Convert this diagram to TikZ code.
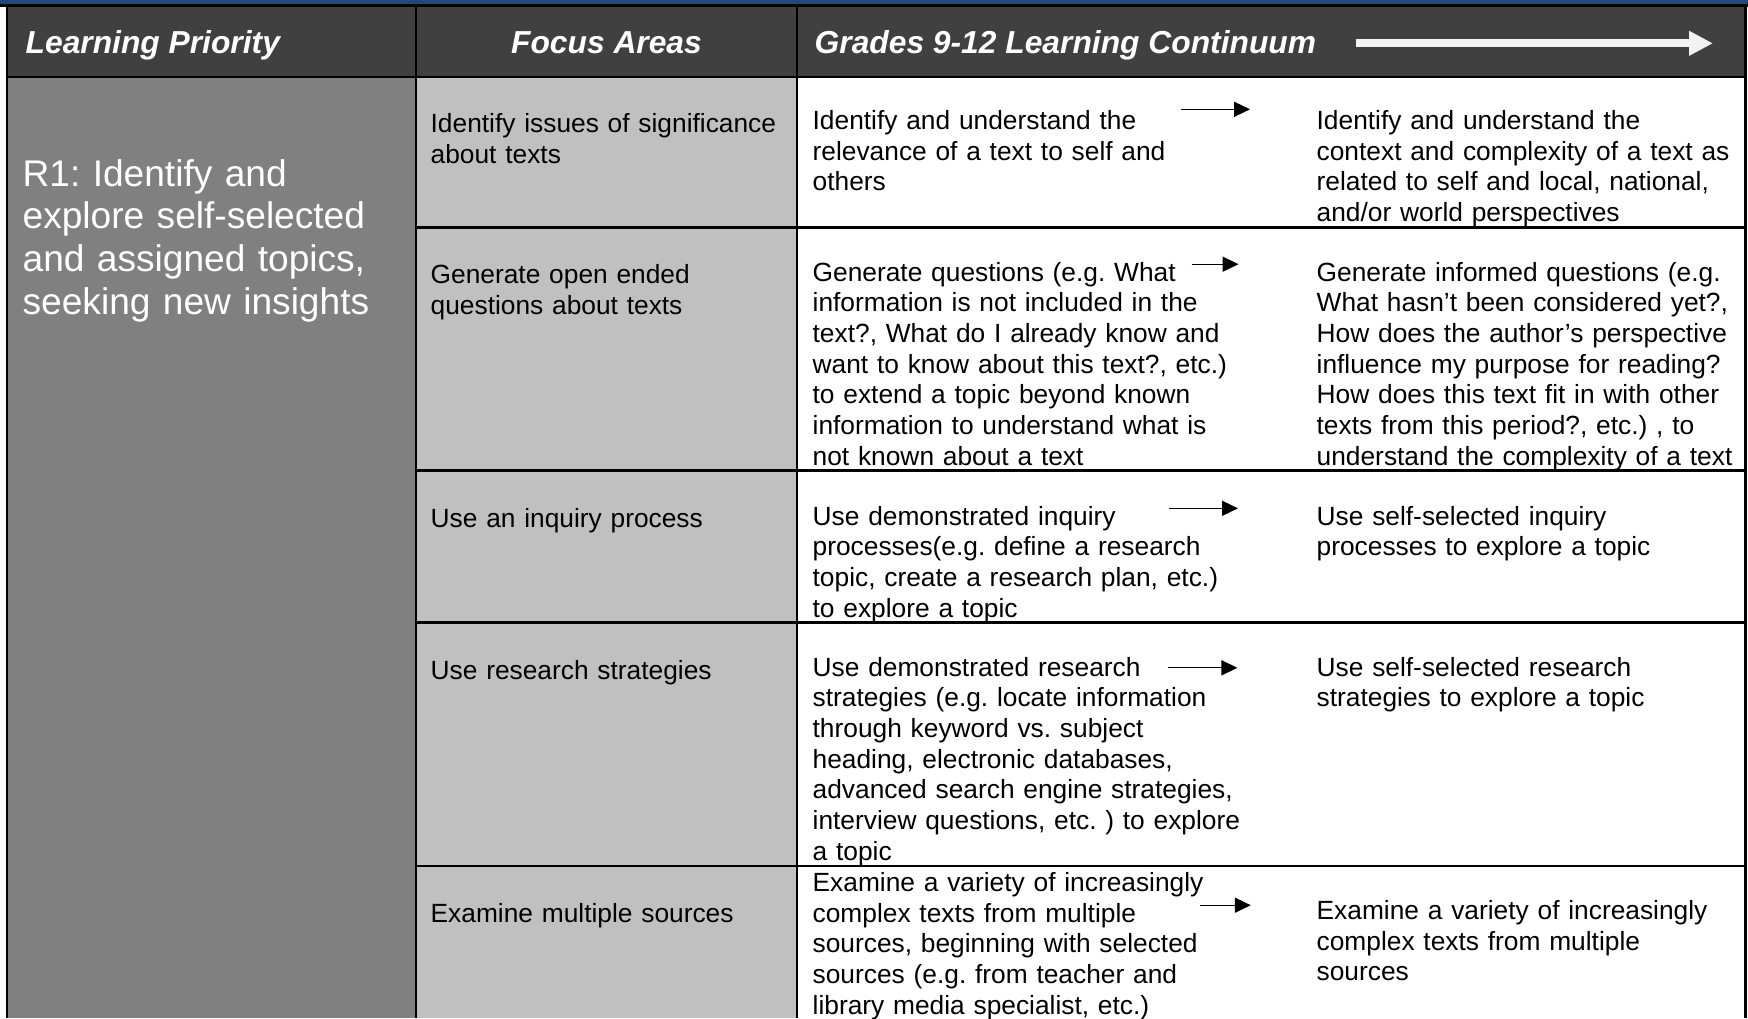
\documentclass[tikz,border=0pt]{standalone}
\usepackage{fontspec}
\setmainfont{Liberation Sans}
\usetikzlibrary{arrows.meta,positioning}
\definecolor{bandblue}{RGB}{31,73,125}
\definecolor{headgray}{RGB}{64,64,64}
\definecolor{prioritygray}{RGB}{128,128,128}
\definecolor{focusgray}{RGB}{192,192,192}
\definecolor{arrowwhite}{RGB}{242,242,242}
\frenchspacing
\tikzset{
    >={Triangle[length=7.2pt,width=6.8pt]},
    every picture/.style={line width=0.6pt},
    gridline/.style={line width=1pt,black},
    headtext/.style={anchor=base west,inner sep=0pt,text=white,font=\fontsize{14.3}{16.5}\selectfont\bfseries\itshape},
    celltext/.style={anchor=base west,inner sep=0pt,text width=205pt,align=left,font=\fontsize{11.85}{13.8}\selectfont},
    prioritytext/.style={anchor=base west,inner sep=0pt,text width=185pt,align=left,text=white,font=\fontsize{16.7}{19.2}\selectfont},
    nextarrow/.style={->,line width=0.6pt}
}

\begin{document}
\begin{tikzpicture}[x=0.45pt,y=-0.45pt]
    \useasboundingbox (0,0) rectangle (1748,1018);
    % backgrounds
    \fill[white] (0,0) rectangle (1748,1018);
    \fill[bandblue] (0,0) rectangle (1748,5);
    \fill[headgray] (7,5) rectangle (1746,77);
    \fill[prioritygray] (7,77) rectangle (416,1018);
    \fill[focusgray] (416,77) rectangle (797,1018);
    % grid
    \draw[gridline] (0,5.5) -- (1748,5.5);
    \draw[gridline] (7,77) -- (1746,77);
    \foreach \x in {7,416,797,1745.5}
        \draw[gridline] (\x,5.5) -- (\x,1018);
    \foreach \y in {227.5,470.5,622.5,866}
        \draw[gridline] (416,\y) -- (1746,\y);

    % header
    \node[headtext] (hpriority) at (25,53.5) {Learning Priority};
    \node[headtext,anchor=base] (hfocus) at (606.5,53.5) {Focus Areas};
    \node[headtext] (hcontinuum) at (814,53.5) {Grades 9-12 Learning Continuum};
    \coordinate (hstart) at (1356,43.3);
    \coordinate (hend) at (1713,43.3);
    \draw[-{Triangle[length=10.8pt,width=10.5pt]},line width=3.6pt,arrowwhite] (hstart) -- (hend);

    % learning priority
    \node[prioritytext] (priority) at (22,186) {R1: Identify and\\explore self-selected\\and assigned topics,\\seeking new insights};

    % focus areas
    \node[celltext] (focusA) at (430,132.5) {Identify issues of significance\\about texts};
    \node[celltext] (focusB) at (430,283.5) {Generate open ended\\questions about texts};
    \node[celltext] (focusC) at (430,527.5) {Use an inquiry process};
    \node[celltext] (focusD) at (430,679) {Use research strategies};
    \node[celltext] (focusE) at (430,922.5) {Examine multiple sources};

    % continuum, first stage
    \node[celltext] (startA) at (812,129.5) {Identify and understand the\\relevance of a text to self and\\others};
    \node[celltext] (startB) at (812,281) {Generate questions (e.g. What\\information is not included in the\\text?, What do I already know and\\want to know about this text?, etc.)\\to extend a topic beyond known\\information to understand what is\\not known about a text};
    \node[celltext] (startC) at (812,525.2) {Use demonstrated inquiry\\processes(e.g. define a research\\topic, create a research plan, etc.)\\to explore a topic};
    \node[celltext] (startD) at (812,676) {Use demonstrated research\\strategies (e.g. locate information\\through keyword vs. subject\\heading, electronic databases,\\advanced search engine strategies,\\interview questions, etc. ) to explore\\a topic};
    \node[celltext] (startE) at (812,891.5) {Examine a variety of increasingly\\complex texts from multiple\\sources, beginning with selected\\sources (e.g. from teacher and\\library media specialist, etc.)};

    % continuum, later stage
    \node[celltext] (endA) at (1316,129.5) {Identify and understand the\\context and complexity of a text as\\related to self and local, national,\\and/or world perspectives};
    \node[celltext] (endB) at (1316,281) {Generate informed questions (e.g.\\What hasn’t been considered yet?,\\How does the author’s perspective\\influence my purpose for reading?\\How does this text fit in with other\\texts from this period?, etc.) , to\\understand the complexity of a text};
    \node[celltext] (endC) at (1316,525.2) {Use self-selected inquiry\\processes to explore a topic};
    \node[celltext] (endD) at (1316,676) {Use self-selected research\\strategies to explore a topic};
    \node[celltext] (endE) at (1316,919.5) {Examine a variety of increasingly\\complex texts from multiple\\sources};

    % small arrows
    \coordinate (aA) at (1181,109.3);   \coordinate (bA) at (1250,109.3);
    \coordinate (aB) at (1191.7,264.2); \coordinate (bB) at (1238.5,264.2);
    \coordinate (aC) at (1169,508.3);   \coordinate (bC) at (1238,508.3);
    \coordinate (aD) at (1168.3,667.8); \coordinate (bD) at (1237.4,667.8);
    \coordinate (aE) at (1199.5,905.2); \coordinate (bE) at (1250.8,905.2);
    \foreach \r in {A,B,C,D,E}
        \draw[nextarrow] (a\r) -- (b\r);
\end{tikzpicture}
\end{document}
